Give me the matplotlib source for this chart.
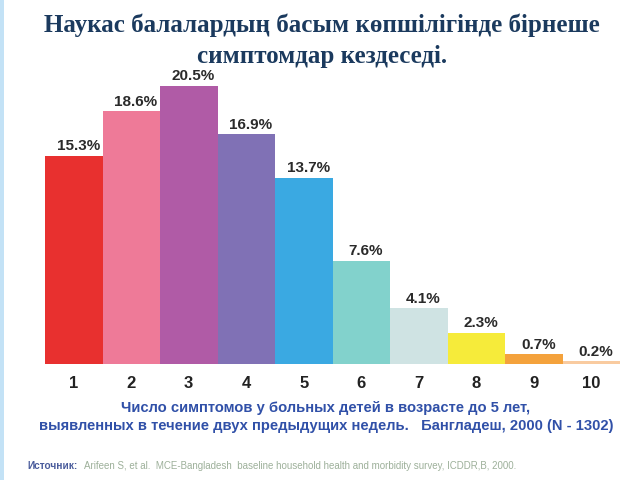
import matplotlib
matplotlib.use("Agg")
import matplotlib.pyplot as plt
from matplotlib.patches import Rectangle

categories = ["1", "2", "3", "4", "5", "6", "7", "8", "9", "10"]
values = [15.3, 18.6, 20.5, 16.9, 13.7, 7.6, 4.1, 2.3, 0.7, 0.2]
labels = ["15.3%", "18.6%", "20.5%", "16.9%", "13.7%", "7.6%", "4.1%", "2.3%", "0.7%", "0.2%"]
colors = ["#E8302F", "#EE7A98", "#B05BA6", "#8071B5", "#3AA9E2",
          "#82D2CC", "#CFE3E3", "#F6EB3A", "#F4A23C", "#F9CBA0"]

title_lines = ["Наукас балалардың басым көпшілігінде бірнеше", "симптомдар кездеседі."]
subtitle_lines = ["Число симптомов у больных детей в возрасте до 5 лет,",
                  "выявленных в течение двух предыдущих недель.   Бангладеш, 2000 (N - 1302)"]
source_head = "Источник:"
source_text = "Arifeen S, et al.  MCE-Bangladesh  baseline household health and morbidity survey, ICDDR,B, 2000."

fig = plt.figure(figsize=(6.4, 4.8), dpi=100)
fig.patch.set_facecolor("white")
fig.patches.append(Rectangle((0, 0), 4 / 640, 1, transform=fig.transFigure,
                             facecolor="#C3E2F6", edgecolor="none"))

ax = fig.add_axes([45 / 640, 116 / 480, 575 / 640, 292 / 480])
x = list(range(1, len(values) + 1))
ax.bar(x, values, width=1.0, color=colors, edgecolor="none")
ax.set_xlim(0.5, 10.5)
ax.set_ylim(0, 21.5)
for s in ax.spines.values():
    s.set_visible(False)
ax.set_yticks([])
ax.set_xticks(x)
ax.set_xticklabels(categories, fontsize=12, fontweight="bold",
                   family="Liberation Sans", color="#222222")
ax.tick_params(axis="x", length=0, pad=9)

for xi, v, lab in zip(x, values, labels):
    ax.annotate(lab, (xi + 0.08, v), xytext=(0, 2), textcoords="offset points",
                ha="center", va="bottom", fontsize=11, fontweight="bold",
                family="Liberation Sans", color="#2A2A2A")

fig.text(322 / 640, 1 - 32 / 480, title_lines[0], ha="center", va="baseline",
         fontsize=18, fontweight="bold", family="Liberation Serif", color="#1B3A5E")
fig.text(322 / 640, 1 - 63 / 480, title_lines[1], ha="center", va="baseline",
         fontsize=18, fontweight="bold", family="Liberation Serif", color="#1B3A5E")

fig.text(326 / 640, 1 - 408 / 480, subtitle_lines[0], ha="center", va="center",
         fontsize=10.6, fontweight="bold", family="Liberation Sans", color="#3050A8")
fig.text(326 / 640, 1 - 426 / 480, subtitle_lines[1], ha="center", va="center",
         fontsize=10.6, fontweight="bold", family="Liberation Sans", color="#3050A8")

fig.text(27 / 640, 1 - 466 / 480, source_head, ha="left", va="center",
         fontsize=7.3, fontweight="bold", family="Liberation Sans", color="#4A5C9C")
fig.text(84 / 640, 1 - 466 / 480, source_text, ha="left", va="center",
         fontsize=7, family="Liberation Sans", color="#9DB09A")

fig.savefig("out.png", dpi=100)
